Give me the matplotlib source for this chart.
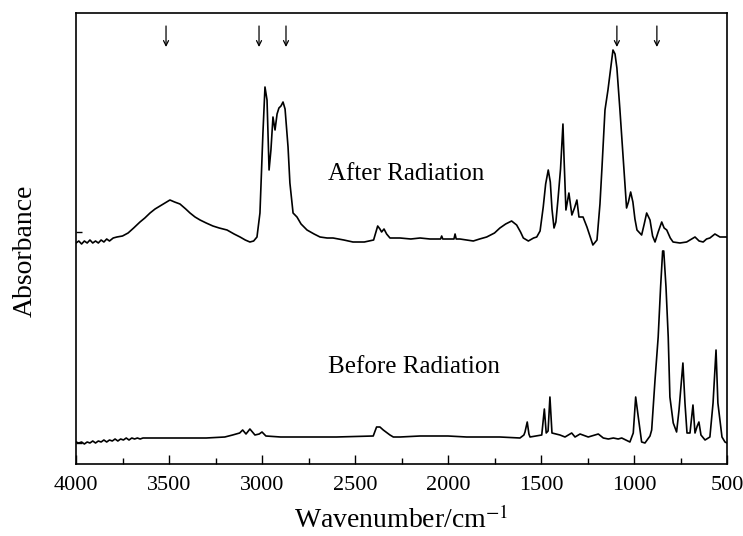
import matplotlib.pyplot as plt
from matplotlib.ticker import MultipleLocator

# FTIR spectra (wavenumber in cm-1, absorbance in arbitrary offset units)
after_wn = [4000, 3985, 3970, 3955, 3940, 3925, 3910, 3895, 3880, 3865, 3850, 3835, 3820, 3800,
            3780, 3750, 3720, 3690, 3656, 3630, 3602, 3575, 3548, 3520, 3495, 3470, 3441, 3410,
            3387, 3360, 3333, 3300, 3264, 3230, 3188, 3150, 3118, 3090, 3065, 3045, 3027, 3011,
            2995, 2984, 2973, 2962, 2952, 2941, 2930, 2919, 2909, 2898, 2887, 2876, 2860, 2850,
            2833, 2812, 2790, 2758, 2720, 2688, 2650, 2618, 2560, 2511, 2450, 2400, 2378, 2366,
            2357, 2344, 2330, 2312, 2258, 2200, 2150, 2097, 2040, 2034, 2028, 1968, 1962, 1956,
            1936, 1864, 1830, 1792, 1750, 1721, 1690, 1658, 1631, 1610, 1595, 1568, 1540, 1523,
            1505, 1488, 1475, 1461, 1450, 1441, 1430, 1420, 1409, 1395, 1382, 1376, 1366, 1350,
            1334, 1320, 1307, 1296, 1274, 1253, 1235, 1221, 1199, 1183, 1172, 1156, 1140, 1124,
            1113, 1102, 1092, 1076, 1054, 1040, 1030, 1018, 1006, 995, 984, 959, 945, 932,
            914, 900, 887, 870, 851, 838, 824, 805, 790, 753, 717, 690, 672, 650,
            628, 610, 592, 565, 538, 502]
after_abs = [2.21, 2.23, 2.20, 2.23, 2.21, 2.24, 2.21, 2.23, 2.21, 2.24, 2.22, 2.25, 2.23, 2.26,
             2.27, 2.28, 2.31, 2.36, 2.42, 2.46, 2.51, 2.55, 2.58, 2.61, 2.64, 2.62, 2.60, 2.55,
             2.51, 2.47, 2.44, 2.41, 2.38, 2.36, 2.34, 2.30, 2.27, 2.24, 2.22, 2.23, 2.27, 2.51,
             3.31, 3.77, 3.64, 2.94, 3.14, 3.47, 3.34, 3.50, 3.56, 3.58, 3.62, 3.55, 3.17, 2.81,
             2.51, 2.47, 2.40, 2.34, 2.30, 2.27, 2.26, 2.26, 2.24, 2.22, 2.22, 2.24, 2.38, 2.35,
             2.32, 2.35, 2.30, 2.26, 2.26, 2.25, 2.26, 2.25, 2.25, 2.28, 2.25, 2.25, 2.30, 2.25,
             2.25, 2.23, 2.25, 2.27, 2.31, 2.36, 2.40, 2.43, 2.39, 2.32, 2.26, 2.23, 2.26, 2.27,
             2.33, 2.57, 2.80, 2.94, 2.82, 2.55, 2.36, 2.42, 2.64, 2.95, 3.40, 3.05, 2.54, 2.71,
             2.49, 2.56, 2.64, 2.47, 2.47, 2.37, 2.27, 2.19, 2.24, 2.60, 2.97, 3.54, 3.74, 3.98,
             4.14, 4.10, 3.96, 3.55, 2.95, 2.56, 2.62, 2.72, 2.62, 2.45, 2.34, 2.29, 2.40, 2.51,
             2.44, 2.28, 2.22, 2.32, 2.42, 2.36, 2.34, 2.26, 2.22, 2.21, 2.22, 2.25, 2.27, 2.23,
             2.22, 2.25, 2.26, 2.30, 2.27, 2.27]

before_wn = [4000, 3985, 3970, 3955, 3940, 3925, 3910, 3895, 3880, 3865, 3850, 3835, 3820, 3805,
             3790, 3775, 3760, 3745, 3730, 3715, 3700, 3685, 3670, 3655, 3640, 3600, 3500, 3400,
             3300, 3200, 3158, 3120, 3104, 3086, 3065, 3038, 3015, 3000, 2979, 2900, 2835, 2600,
             2402, 2384, 2366, 2348, 2312, 2294, 2258, 2150, 2000, 1900, 1721, 1613, 1592, 1586,
             1574, 1565, 1559, 1496, 1482, 1472, 1462, 1452, 1441, 1398, 1371, 1335, 1317, 1290,
             1246, 1192, 1165, 1138, 1111, 1085, 1066, 1022, 1004, 991, 977, 959, 941, 914,
             905, 887, 870, 857, 846, 840, 828, 816, 807, 789, 771, 758, 737, 726,
             715, 699, 683, 672, 660, 651, 640, 618, 592, 575, 559, 549, 527, 511, 500]
before_abs = [0.22, 0.21, 0.22, 0.20, 0.22, 0.21, 0.23, 0.21, 0.23, 0.22, 0.24, 0.22, 0.24, 0.23,
              0.25, 0.23, 0.25, 0.24, 0.26, 0.24, 0.26, 0.25, 0.26, 0.25, 0.26, 0.26, 0.26, 0.26,
              0.26, 0.27, 0.29, 0.31, 0.34, 0.30, 0.35, 0.29, 0.30, 0.32, 0.28, 0.27, 0.27, 0.27,
              0.28, 0.37, 0.37, 0.34, 0.29, 0.27, 0.27, 0.28, 0.28, 0.27, 0.27, 0.26, 0.29, 0.32,
              0.42, 0.30, 0.27, 0.29, 0.55, 0.31, 0.33, 0.67, 0.31, 0.29, 0.27, 0.31, 0.27, 0.30,
              0.27, 0.30, 0.26, 0.25, 0.26, 0.25, 0.26, 0.22, 0.31, 0.67, 0.47, 0.22, 0.21, 0.28,
              0.34, 0.84, 1.27, 1.77, 2.13, 2.13, 1.77, 1.27, 0.67, 0.41, 0.32, 0.54, 1.01, 0.61,
              0.31, 0.31, 0.59, 0.31, 0.38, 0.42, 0.29, 0.24, 0.27, 0.61, 1.14, 0.61, 0.27, 0.22, 0.21]

arrow_wn = [3516, 3016, 2871, 1092, 877]
xtick_values = [4000, 3500, 3000, 2500, 2000, 1500, 1000, 500]

plt.rcParams['font.family'] = ['Liberation Serif', 'DejaVu Serif']
plt.rcParams['mathtext.fontset'] = 'stix'

fig = plt.figure(figsize=(7.43, 5.36), dpi=100)
ax = fig.add_axes([76 / 743, 72 / 536, 651 / 743, 451 / 536])

ax.plot(after_wn, after_abs, color='black', lw=1.2)
ax.plot(before_wn, before_abs, color='black', lw=1.2)

# marker arrows above the upper spectrum
for w in arrow_wn:
    ax.annotate('', xy=(w, 4.17), xytext=(w, 4.38),
                arrowprops=dict(arrowstyle='->', color='black', lw=0.9,
                                shrinkA=0, shrinkB=0, mutation_scale=9))

ax.text(2645, 2.84, 'After Radiation', fontsize=18, va='baseline', ha='left')
ax.text(2645, 0.91, 'Before Radiation', fontsize=18, va='baseline', ha='left')

ax.set_xlim(4000, 500)
ax.set_ylim(0, 4.51)
ax.set_xticks(xtick_values)
ax.set_xticklabels([str(v) for v in xtick_values])
ax.xaxis.set_minor_locator(MultipleLocator(250))
ax.set_yticks([0.21, 2.32])
ax.set_yticklabels([])
ax.tick_params(axis='x', which='major', direction='in', length=6.5, width=1, labelsize=16, pad=9)
ax.tick_params(axis='x', which='minor', direction='in', length=4, width=1)
ax.tick_params(axis='y', which='major', direction='in', length=4, width=1)

for s in ax.spines.values():
    s.set_linewidth(1.2)

ax.set_xlabel('Wavenumber/cm$^{-1}$', fontsize=20, labelpad=8)
fig.text(25 / 743, 1 - 251 / 536, 'Absorbance', fontsize=20, rotation=90,
         ha='center', va='center')

fig.savefig('out.png', dpi=100)
